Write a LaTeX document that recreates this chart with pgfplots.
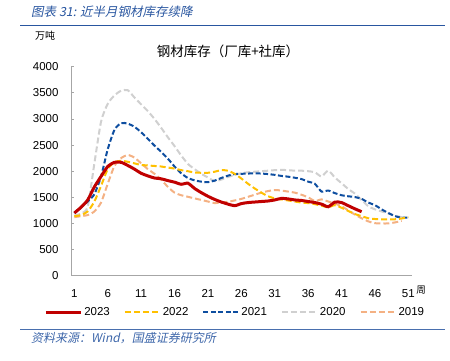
\documentclass[border=0pt]{standalone}
\usepackage{pgfplots}
\pgfplotsset{compat=1.18}
\usepackage{fontspec}
\setmainfont{Liberation Sans}
\newfontfamily\cjk{Noto Sans CJK SC}
\newfontfamily\cjkit[FakeSlant=0.2]{Noto Sans CJK SC}
\definecolor{c23}{RGB}{192,0,0}
\definecolor{c22}{RGB}{255,192,0}
\definecolor{c21}{RGB}{14,78,160}
\definecolor{c20}{RGB}{208,208,208}
\definecolor{c19}{RGB}{244,177,131}
\definecolor{hdr}{RGB}{41,86,160}
\definecolor{axgray}{RGB}{166,166,166}
\begin{document}
\begin{tikzpicture}
\path[use as bounding box] (0,0) rectangle (450bp,-361bp);
% header
\node[anchor=west,text=hdr,inner sep=0pt] at (31bp,-12bp) {\cjkit\fontsize{12.5bp}{14bp}\selectfont 图表 31:  近半月钢材库存续降};
\draw[hdr,line width=1.6bp] (20bp,-25.5bp) -- (445bp,-25.5bp);
\node[inner sep=0pt] at (45bp,-36bp) {\cjk\fontsize{10bp}{12bp}\selectfont 万吨};
\node[inner sep=0pt] at (228bp,-51.7bp) {\cjk\fontsize{13.5bp}{15bp}\selectfont 钢材库存（厂库+社库）};
\node[inner sep=0pt] at (421bp,-290bp) {\cjk\fontsize{9.5bp}{11bp}\selectfont 周};
\draw[hdr!85,line width=1.4bp] (20bp,-329.3bp) -- (445bp,-329.3bp);
\node[anchor=west,text=hdr!90,inner sep=0pt] at (31bp,-338.5bp) {\cjkit\fontsize{12bp}{14bp}\selectfont 资料来源：Wind，国盛证券研究所};
\begin{axis}[
  at={(71bp,-275.7bp)}, anchor=south west,
  scale only axis, width=340.7bp, height=209bp,
  xmin=0.5, xmax=51.5, ymin=0, ymax=4000,
  axis x line*=bottom, axis y line*=left,
  axis line style={axgray,line width=0.8bp,-},
  xtick={1,6,...,51}, ytick={0,500,...,4000},
  /pgf/number format/1000 sep={},
  /pgf/number format/assume math mode=true,
  tick label style={font=\fontsize{11.5bp}{13bp}\selectfont, text=black},
  x tick style={draw=none},
  y tick style={axgray,line width=0.8bp},
  major tick length=3bp,
  ytick align=inside,
  xticklabel style={yshift=-10bp},
  yticklabel style={xshift=-9bp},
  legend columns=5,
  legend style={draw=none, fill=none, at={(0.482,-0.176)}, anchor=center,
    font=\fontsize{11.5bp}{13bp}\selectfont,
    /tikz/every even column/.append style={column sep=12bp},
    inner sep=0pt},
  legend image code/.code={\draw[#1] (0bp,0bp) -- (35bp,0bp);},
  every axis plot/.append style={smooth, tension=0.4},
]
\addlegendimage{c23, line width=3bp}
\addlegendentry{2023}
\addlegendimage{c22, line width=2bp, dash pattern=on 6bp off 3bp}
\addlegendentry{2022}
\addlegendimage{c21, line width=2bp, dash pattern=on 5bp off 2.5bp}
\addlegendentry{2021}
\addlegendimage{c20, line width=2bp, dash pattern=on 6bp off 3bp}
\addlegendentry{2020}
\addlegendimage{c19, line width=2bp, dash pattern=on 6bp off 3bp}
\addlegendentry{2019}
% 2019
\addplot[c19, line width=2bp, dash pattern=on 6bp off 3bp, forget plot] coordinates {
(1,1120)(2,1140)(3,1160)(4,1230)(5,1400)(6,1760)(7,2100)(8,2250)(9,2310)(10,2260)
(11,2150)(12,2040)(13,1950)(14,1840)(15,1700)(16,1590)(17,1540)(18,1510)(19,1480)(20,1450)
(21,1420)(22,1390)(23,1400)(24,1415)(25,1440)(26,1470)(27,1510)(28,1550)(29,1590)(30,1620)
(31,1640)(32,1630)(33,1610)(34,1590)(35,1550)(36,1500)(37,1430)(38,1460)(39,1420)(40,1380)
(41,1330)(42,1250)(43,1170)(44,1100)(45,1040)(46,1005)(47,1000)(48,1000)(49,1020)(50,1050)};
% 2020
\addplot[c20, line width=2bp, dash pattern=on 6bp off 3bp, forget plot] coordinates {
(1,1150)(2,1190)(3,1320)(4,2150)(5,2950)(6,3290)(7,3450)(8,3540)(9,3550)(10,3410)
(11,3280)(12,3150)(13,3000)(14,2830)(15,2650)(16,2480)(17,2300)(18,2140)(19,2040)(20,1950)
(21,1880)(22,1810)(23,1840)(24,1890)(25,1930)(26,1960)(27,1980)(28,1990)(29,2000)(30,2010)
(31,2020)(32,2025)(33,2020)(34,2010)(35,2010)(36,2000)(37,1980)(38,1900)(39,2010)(40,1880)
(41,1770)(42,1660)(43,1570)(44,1450)(45,1330)(46,1270)(47,1230)(48,1190)(49,1150)(50,1120)};
% 2021
\addplot[c21, line width=2bp, dash pattern=on 5bp off 2.5bp, forget plot] coordinates {
(1,1200)(2,1310)(3,1420)(4,1560)(5,1900)(6,2420)(7,2790)(8,2920)(9,2910)(10,2850)
(11,2745)(12,2620)(13,2490)(14,2370)(15,2240)(16,2090)(17,1960)(18,1870)(19,1825)(20,1800)
(21,1790)(22,1820)(23,1870)(24,1915)(25,1945)(26,1950)(27,1955)(28,1960)(29,1955)(30,1945)
(31,1930)(32,1910)(33,1895)(34,1875)(35,1850)(36,1800)(37,1760)(38,1610)(39,1630)(40,1580)
(41,1540)(42,1520)(43,1505)(44,1470)(45,1400)(46,1350)(47,1270)(48,1200)(49,1140)(50,1110)(51,1115)};
% 2022
\addplot[c22, line width=2bp, dash pattern=on 6bp off 3bp, forget plot] coordinates {
(1,1140)(2,1160)(3,1230)(4,1420)(5,1720)(6,2040)(7,2170)(8,2200)(9,2180)(10,2150)
(11,2120)(12,2110)(13,2100)(14,2090)(15,2070)(16,2050)(17,2020)(18,2000)(19,1975)(20,1970)
(21,1970)(22,1990)(23,2020)(24,2010)(25,1950)(26,1860)(27,1760)(28,1670)(29,1590)(30,1520)
(31,1480)(32,1460)(33,1440)(34,1420)(35,1400)(36,1390)(37,1370)(38,1340)(39,1310)(40,1350)
(41,1300)(42,1240)(43,1180)(44,1140)(45,1100)(46,1085)(47,1080)(48,1080)(49,1080)(50,1095)(51,1120)};
% 2023
\addplot[c23, line width=3bp, forget plot] coordinates {
(1,1200)(2,1310)(3,1450)(4,1700)(5,1900)(6,2090)(7,2170)(8,2170)(9,2110)(10,2040)
(11,1960)(12,1910)(13,1870)(14,1855)(15,1820)(16,1790)(17,1750)(18,1770)(19,1670)(20,1590)
(21,1520)(22,1460)(23,1410)(24,1370)(25,1340)(26,1380)(27,1400)(28,1410)(29,1420)(30,1430)
(31,1450)(32,1480)(33,1470)(34,1450)(35,1440)(36,1420)(37,1400)(38,1370)(39,1320)(40,1410)
(41,1400)(42,1340)(43,1280)(44,1225)};
\end{axis}
\end{tikzpicture}
\end{document}
